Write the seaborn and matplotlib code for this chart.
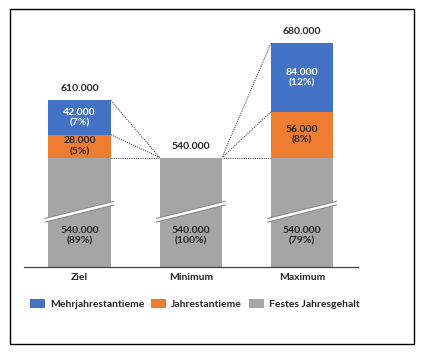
import numpy as np
import seaborn as sns
import matplotlib.pyplot as plt
from matplotlib.patches import Patch, Rectangle, Polygon

categories = ["Ziel", "Minimum", "Maximum"]
festes = np.array([540000, 540000, 540000])
jahres = np.array([28000, 0, 56000])
mehrjahres = np.array([42000, 0, 84000])
series_names = ["Mehrjahrestantieme", "Jahrestantieme", "Festes Jahresgehalt"]

# axis break: grey bars are drawn shortened by this amount
AXIS_BREAK = 406000

BLUE = "#4472C4"
ORANGE = "#ED7D31"
GREY = "#A5A5A5"
TXT = "#262626"


def fmt(v):
    return f"{v:,.0f}".replace(",", ".")


sns.set_theme(style="white")
plt.rcParams["font.family"] = ["Lato", "DejaVu Sans"]
plt.rcParams["font.weight"] = "bold"

fig = plt.figure(figsize=(4.21, 3.55), dpi=100)
ax = fig.add_axes([24 / 421, (355 - 267) / 355, 333.75 / 421, 245 / 355])

total = festes + jahres + mehrjahres
grey_shown = (festes - AXIS_BREAK) / 1000
orange_top = grey_shown + jahres / 1000
blue_top = orange_top + mehrjahres / 1000

W = 0.56
for vals, col in [(blue_top, BLUE), (orange_top, ORANGE), (grey_shown, GREY)]:
    sns.barplot(x=categories, y=vals, color=col, width=W, errorbar=None, ax=ax,
                saturation=1, linewidth=0, edgecolor="none")

ax.set_xlim(-0.5, 2.5)
ax.set_ylim(0, 300)
ax.set_yticks([])
ax.set_ylabel("")
for s in ["top", "left", "right"]:
    ax.spines[s].set_visible(False)
ax.spines["bottom"].set_color("#404040")
ax.spines["bottom"].set_linewidth(0.9)
ax.tick_params(axis="x", length=0, pad=4, labelsize=7.5, colors=TXT)
for lab in ax.get_xticklabels():
    lab.set_fontweight("bold")

fs = 7.5
for i in range(3):
    # grey label + axis break
    ax.text(i, 38, f"{fmt(festes[i])}\n({festes[i] / total[i] * 100:.0f}%)", ha="center", va="center",
            fontsize=fs, color=TXT, fontweight="bold", linespacing=1.25)
    x0, x1 = i - 0.31, i + 0.31
    ax.add_patch(Polygon([[x0, 55], [x1, 76], [x1, 80.5], [x0, 59.5]], closed=True,
                         facecolor="white", edgecolor="none", zorder=4))
    ax.plot([x0, x1], [55, 76], color="#8c8c8c", lw=0.8, zorder=5)
    ax.plot([x0, x1], [59.5, 80.5], color="#8c8c8c", lw=0.8, zorder=5)
    if jahres[i] > 0:
        ax.text(i, (grey_shown[i] + orange_top[i]) / 2, f"{fmt(jahres[i])}\n({jahres[i] / total[i] * 100:.0f}%)",
                ha="center", va="center", fontsize=fs, color=TXT, fontweight="bold", linespacing=1.25)
    if mehrjahres[i] > 0:
        ax.text(i, (orange_top[i] + blue_top[i]) / 2, f"{fmt(mehrjahres[i])}\n({mehrjahres[i] / total[i] * 100:.0f}%)",
                ha="center", va="center", fontsize=fs, color="white", fontweight="bold", linespacing=1.25)
    ax.annotate(fmt(total[i]), (i, blue_top[i]), xytext=(0, 5), textcoords="offset points",
                ha="center", va="bottom", fontsize=fs, color=TXT, fontweight="bold")

# dotted connectors
h = W / 2
for a, b in [(0, 1), (1, 2)]:
    src, dst = (a, b) if blue_top[a] > blue_top[b] else (b, a)
    xs = a + h if src == a else b - h
    xd = b - h if src == a else a + h
    for yv in [grey_shown[src], orange_top[src], blue_top[src]]:
        ax.plot([xs, xd], [yv, grey_shown[dst]], color="#505050", lw=0.8, ls=(0, (1, 1)), zorder=3)

handles = [Patch(facecolor=c, edgecolor="none") for c in [BLUE, ORANGE, GREY]]
fig.legend(handles, series_names, loc="center left", bbox_to_anchor=(26 / 421, 1 - 304 / 355),
           ncol=3, frameon=False, handlelength=1.45, handleheight=1.0,
           handletextpad=0.5, columnspacing=0.6, borderaxespad=0, prop={"weight": "bold", "size": fs})

fig.patches.append(Rectangle((10 / 421, 1 - 344 / 355), 404 / 421, 335 / 355, transform=fig.transFigure,
                             fill=False, edgecolor="black", lw=1.0))

fig.savefig("out.png", dpi=100)
